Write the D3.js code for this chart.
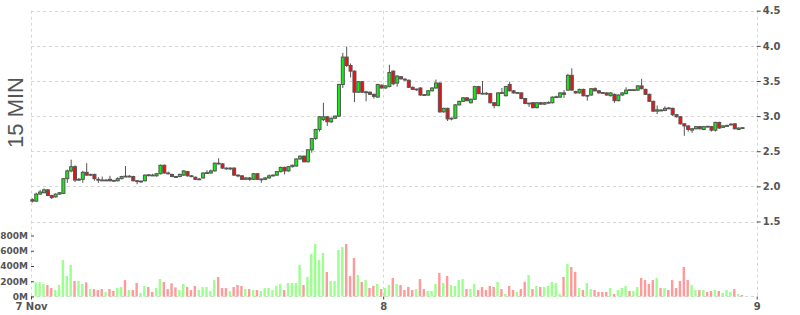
<!DOCTYPE html>
<html><head><meta charset="utf-8">
<script src="https://cdn.jsdelivr.net/npm/d3@7"></script>
<style>body{margin:0;background:#fff}svg{display:block}</style>
</head><body>
<svg id="c" width="800" height="315"></svg>
<script>
const open=[1.81,1.79,1.89,1.91,1.95,1.87,1.85,1.89,1.90,2.11,
2.22,2.28,2.09,2.10,2.20,2.16,2.17,2.10,2.09,2.085,
2.10,2.085,2.08,2.11,2.145,2.14,2.14,2.08,2.07,2.08,
2.165,2.16,2.15,2.18,2.30,2.19,2.17,2.14,2.14,2.16,
2.21,2.15,2.13,2.10,2.12,2.19,2.19,2.22,2.33,2.32,
2.26,2.25,2.26,2.16,2.15,2.10,2.12,2.10,2.18,2.10,
2.10,2.12,2.15,2.16,2.21,2.27,2.22,2.28,2.29,2.39,
2.43,2.35,2.52,2.68,2.81,2.95,2.99,2.92,2.97,3.00,
3.45,3.84,3.72,3.64,3.34,3.49,3.34,3.34,3.31,3.27,
3.44,3.40,3.42,3.64,3.47,3.56,3.525,3.51,3.41,3.38,
3.40,3.305,3.30,3.36,3.40,3.47,3.06,3.11,2.965,2.97,
3.16,3.21,3.26,3.19,3.24,3.42,3.325,3.325,3.32,3.19,
3.15,3.335,3.29,3.45,3.36,3.33,3.33,3.25,3.18,3.19,
3.12,3.19,3.17,3.19,3.19,3.27,3.27,3.33,3.37,3.58,
3.35,3.33,3.38,3.29,3.30,3.39,3.36,3.335,3.33,3.29,
3.31,3.22,3.30,3.32,3.375,3.37,3.37,3.43,3.38,3.31,
3.21,3.07,3.085,3.08,3.115,3.11,3.02,2.99,2.89,2.86,
2.80,2.82,2.85,2.81,2.855,2.85,2.80,2.91,2.84,2.86,
2.88,2.89,2.81,2.835];
const close=[1.79,1.89,1.92,1.95,1.87,1.84,1.89,1.91,2.11,2.22,
2.28,2.09,2.10,2.20,2.16,2.17,2.11,2.09,2.085,2.09,
2.08,2.08,2.11,2.14,2.14,2.145,2.08,2.07,2.075,2.16,
2.16,2.155,2.18,2.30,2.19,2.185,2.14,2.135,2.17,2.22,
2.15,2.145,2.10,2.105,2.19,2.195,2.22,2.33,2.325,2.26,
2.255,2.26,2.16,2.155,2.10,2.12,2.10,2.18,2.10,2.105,
2.12,2.15,2.16,2.21,2.27,2.22,2.28,2.30,2.39,2.43,
2.35,2.52,2.68,2.81,2.99,2.99,2.92,2.97,3.00,3.45,
3.84,3.72,3.64,3.34,3.49,3.34,3.345,3.31,3.28,3.45,
3.40,3.43,3.62,3.46,3.57,3.53,3.52,3.41,3.38,3.385,
3.30,3.30,3.36,3.40,3.47,3.06,3.11,2.96,2.97,3.16,
3.21,3.26,3.22,3.24,3.42,3.32,3.32,3.32,3.19,3.15,
3.33,3.33,3.42,3.36,3.33,3.335,3.25,3.18,3.185,3.12,
3.19,3.17,3.19,3.195,3.27,3.275,3.33,3.31,3.58,3.37,
3.33,3.38,3.29,3.295,3.39,3.36,3.33,3.33,3.30,3.33,
3.22,3.30,3.33,3.37,3.37,3.375,3.43,3.39,3.31,3.21,
3.07,3.09,3.08,3.11,3.11,3.02,2.99,2.89,2.86,2.81,
2.82,2.85,2.82,2.85,2.85,2.80,2.91,2.83,2.86,2.865,
2.885,2.82,2.83,2.83];
const high=[1.83,1.91,1.95,1.97,1.96,1.88,1.90,1.92,2.12,2.24,
2.38,2.30,2.12,2.22,2.33,2.18,2.18,2.13,2.14,2.10,
2.15,2.09,2.13,2.15,2.29,2.16,2.15,2.09,2.08,2.17,
2.17,2.18,2.19,2.31,2.31,2.21,2.18,2.15,2.18,2.23,
2.22,2.16,2.14,2.12,2.20,2.23,2.24,2.34,2.40,2.33,
2.27,2.27,2.27,2.17,2.16,2.13,2.13,2.19,2.19,2.11,
2.13,2.17,2.17,2.22,2.28,2.28,2.29,2.31,2.40,2.44,
2.44,2.53,2.69,2.82,3.00,3.19,3.00,2.98,3.01,3.46,
3.90,3.99,3.75,3.65,3.50,3.50,3.36,3.35,3.32,3.46,
3.45,3.44,3.73,3.65,3.58,3.57,3.54,3.52,3.42,3.39,
3.41,3.31,3.37,3.41,3.52,3.48,3.12,3.12,2.98,3.17,
3.22,3.27,3.27,3.25,3.43,3.43,3.50,3.34,3.33,3.20,
3.34,3.40,3.43,3.49,3.37,3.34,3.34,3.26,3.19,3.20,
3.20,3.20,3.20,3.21,3.28,3.29,3.34,3.37,3.60,3.68,
3.36,3.39,3.39,3.30,3.40,3.41,3.37,3.34,3.34,3.34,
3.32,3.31,3.34,3.41,3.38,3.38,3.44,3.53,3.39,3.32,
3.22,3.15,3.10,3.14,3.13,3.12,3.03,3.00,2.90,2.87,
2.83,2.86,2.86,2.86,2.86,2.86,2.92,2.92,2.87,2.88,
2.90,2.90,2.84,2.84];
const low=[1.77,1.78,1.88,1.90,1.86,1.82,1.84,1.88,1.89,2.05,
2.20,2.06,2.08,2.05,2.15,2.15,2.08,2.05,2.08,2.08,
2.07,2.07,2.07,2.10,2.13,2.13,2.07,2.03,2.05,2.07,
2.14,2.15,2.14,2.17,2.18,2.17,2.13,2.12,2.13,2.15,
2.14,2.13,2.09,2.09,2.11,2.18,2.18,2.21,2.31,2.25,
2.24,2.23,2.15,2.13,2.09,2.09,2.08,2.09,2.09,2.05,
2.09,2.11,2.14,2.15,2.20,2.17,2.21,2.27,2.28,2.38,
2.34,2.34,2.48,2.66,2.78,2.93,2.86,2.90,2.96,2.99,
3.40,3.70,3.55,3.20,3.33,3.33,3.21,3.30,3.25,3.26,
3.39,3.39,3.41,3.44,3.42,3.52,3.50,3.40,3.37,3.36,
3.29,3.29,3.29,3.35,3.39,3.05,3.05,2.93,2.94,2.96,
3.15,3.20,3.21,3.18,3.23,3.31,3.31,3.30,3.18,3.11,
3.14,3.32,3.28,3.35,3.32,3.32,3.24,3.17,3.13,3.11,
3.11,3.16,3.16,3.18,3.18,3.26,3.26,3.26,3.36,3.36,
3.32,3.32,3.28,3.22,3.29,3.35,3.32,3.32,3.29,3.28,
3.19,3.21,3.29,3.31,3.36,3.36,3.36,3.38,3.30,3.20,
3.06,3.03,3.07,3.07,3.10,3.00,2.98,2.88,2.72,2.78,
2.76,2.81,2.81,2.80,2.84,2.78,2.78,2.82,2.83,2.85,
2.87,2.81,2.80,2.82];
const volume=[10,186,186,164,151,111,85,151,479,269,
413,203,203,164,186,98,98,85,98,59,
98,72,115,125,216,85,85,177,46,138,
125,59,111,229,190,98,173,120,85,164,
125,85,138,85,125,125,72,216,256,111,
111,72,125,151,138,98,98,85,85,72,
111,111,85,138,164,85,177,177,177,413,
151,256,557,689,479,570,321,203,203,610,
649,689,269,505,282,190,216,111,138,164,
98,111,151,243,164,151,85,125,85,98,
229,98,72,72,164,308,177,269,151,138,
216,229,98,98,164,85,125,85,138,125,
190,98,33,138,85,59,98,194,282,98,
138,125,125,138,190,177,33,256,426,387,
321,111,85,177,98,85,59,59,59,111,
33,85,111,138,72,72,125,243,216,164,
216,243,111,111,85,216,111,203,387,216,
151,85,85,85,59,72,85,72,46,85,
59,98,33,20];
const priceTicks=[1.5,2,2.5,3,3.5,4,4.5];
const volTicks=[0,200,400,600,800];
const dayTickIdx=[-0.35,90.4,186.65];
const dayTickLabels=["7 Nov","8","9"];
const panelLabel="15 MIN";

const svg=d3.select("#c");
const L=31, R=756.7;
const x=d3.scaleLinear().domain([-0.35,186.65]).range([L,R]);
const y=d3.scaleLinear().domain([1.5,4.5]).range([221.5,10.7]);
const vy=d3.scaleLinear().domain([0,800]).range([296.5,235.5]);
const idx=d3.range(open.length);
const grid="#d6d6d6";

// grid
const g=svg.append("g");
g.selectAll("line.h").data(priceTicks).join("line")
 .attr("x1",L).attr("x2",R).attr("y1",d=>Math.round(y(d))+0.5).attr("y2",d=>Math.round(y(d))+0.5)
 .attr("stroke",grid).attr("stroke-dasharray","3,3");
g.selectAll("line.v").data(dayTickIdx).join("line")
 .attr("x1",d=>Math.round(x(d))+0.5).attr("x2",d=>Math.round(x(d))+0.5).attr("y1",10.7).attr("y2",296.5)
 .attr("stroke",grid).attr("stroke-dasharray","3,3");
g.append("line").attr("x1",L).attr("x2",R).attr("y1",296.5).attr("y2",296.5)
 .attr("stroke",grid).attr("stroke-dasharray","3,3");

// volume
svg.append("g").selectAll("rect").data(idx).join("rect")
 .attr("x",i=>x(i)-1.7).attr("width",2.4)
 .attr("y",i=>vy(volume[i])).attr("height",i=>vy(0)-vy(volume[i]))
 .attr("fill",i=>close[i]>=open[i]?"#9cff8f":"#ff9a9a");

// candles
const cg=svg.append("g");
cg.selectAll("line").data(idx).join("line")
 .attr("x1",i=>x(i)).attr("x2",i=>x(i))
 .attr("y1",i=>y(high[i])).attr("y2",i=>y(low[i]))
 .attr("stroke","#555").attr("stroke-width",1);
cg.selectAll("rect").data(idx).join("rect")
 .attr("x",i=>x(i)-1.5).attr("width",3)
 .attr("y",i=>y(Math.max(open[i],close[i])))
 .attr("height",i=>Math.max(0.8,Math.abs(y(open[i])-y(close[i]))))
 .attr("fill",i=>close[i]>=open[i]?"#11ee11":"#ee1111")
 .attr("stroke","#555").attr("stroke-width",1);

// axes
const fontAx='bold 10px "DejaVu Sans", sans-serif';
const ay=svg.append("g").attr("transform",`translate(${R},0)`)
 .call(d3.axisRight(y).tickValues(priceTicks).tickSize(4).tickPadding(2).tickFormat(d3.format(".1f")));
const av=svg.append("g").attr("transform",`translate(34,0)`)
 .call(d3.axisLeft(vy).tickValues(volTicks).tickSize(3).tickPadding(3).tickFormat(d=>d+"M"));
const ax=svg.append("g").attr("transform",`translate(0,296.5)`)
 .call(d3.axisBottom(x).tickValues(dayTickIdx).tickSize(3).tickPadding(3).tickFormat((d,i)=>dayTickLabels[i]));
[ay,av,ax].forEach(a=>{
 a.select(".domain").remove();
 a.selectAll(".tick line").attr("stroke","#444");
 a.selectAll("text").style("font",fontAx).attr("fill","#555");
});
av.selectAll("text").style("font",'bold 9px "DejaVu Sans", sans-serif');

svg.append("text").text(panelLabel)
 .attr("transform","translate(23,112.5) rotate(-90)")
 .attr("text-anchor","middle")
 .style("font",'22px "Liberation Sans", Arial, sans-serif')
 .attr("fill","#555");
</script>
</body></html>
